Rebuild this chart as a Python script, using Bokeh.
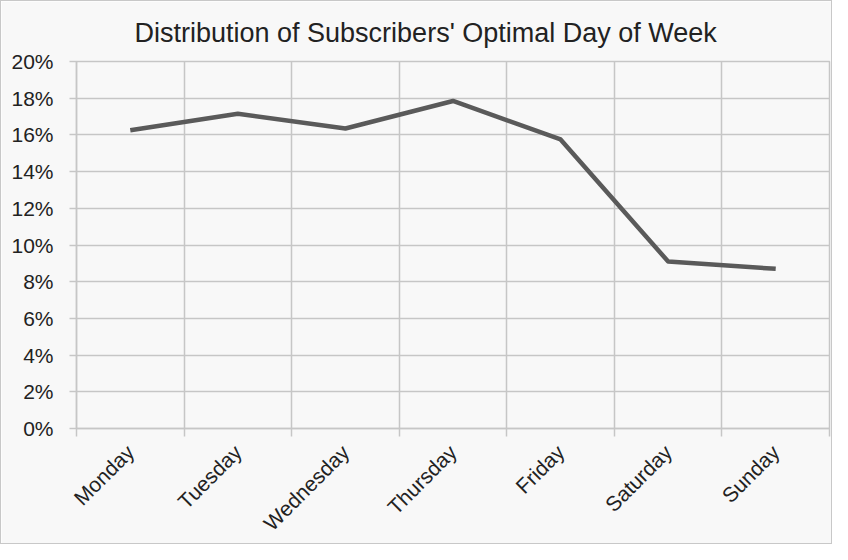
import math
from bokeh.plotting import figure
from bokeh.models import FixedTicker, PrintfTickFormatter, ColumnDataSource
from bokeh.embed import file_html
from bokeh.resources import INLINE

days = ["Monday", "Tuesday", "Wednesday", "Thursday", "Friday", "Saturday", "Sunday"]
share_pct = [16.25, 17.15, 16.35, 17.85, 15.75, 9.1, 8.7]
y_ticks = [0, 2, 4, 6, 8, 10, 12, 14, 16, 18, 20]
title_text = "Distribution of Subscribers' Optimal Day of Week"

GRID = "#c6c6c6"
TEXT = "#222222"
BG = "#f8f8f8"
FONT = "Liberation Sans"

xs = [i + 0.5 for i in range(len(days))]
src = ColumnDataSource(data=dict(x=xs, y=share_pct, day=days))

p = figure(width=832, height=544, x_range=(0, len(days)), y_range=(y_ticks[0], y_ticks[-1]),
           output_backend="svg", toolbar_location=None, title=title_text)
p.min_border_left = 75
p.min_border_top = 60
p.min_border_right = 4
p.min_border_bottom = 108
p.background_fill_color = BG
p.border_fill_color = BG
p.outline_line_color = GRID
p.outline_line_width = 1.5
p.styles = {"border": "1px solid #c8c8c8"}

p.title.text_font = FONT
p.title.text_font_size = "27px"
p.title.text_font_style = "normal"
p.title.text_color = TEXT
p.title.align = "left"
p.title.offset = 58
p.title.standoff = 27

# x axis
p.xaxis.ticker = FixedTicker(ticks=xs, minor_ticks=list(range(len(days) + 1)))
p.xaxis.major_label_overrides = {x: d for x, d in zip(xs, days)}
p.xaxis.major_label_orientation = math.pi / 4
p.xaxis.major_tick_out = 0
p.xaxis.major_tick_in = 0
p.xaxis.minor_tick_out = 8
p.xaxis.minor_tick_in = 0
p.xaxis.minor_tick_line_color = GRID
p.xaxis.minor_tick_line_width = 1.5
p.xaxis.axis_line_color = GRID
p.xaxis.axis_line_width = 1.5
p.xaxis.major_label_text_font = FONT
p.xaxis.major_label_text_font_size = "21px"
p.xaxis.major_label_text_color = TEXT
p.xaxis.major_label_standoff = 12

# y axis
p.yaxis.ticker = FixedTicker(ticks=y_ticks, minor_ticks=[])
p.yaxis.formatter = PrintfTickFormatter(format="%d%%")
p.yaxis.major_tick_out = 7
p.yaxis.major_tick_in = 0
p.yaxis.major_tick_line_color = GRID
p.yaxis.major_tick_line_width = 1.5
p.yaxis.axis_line_color = GRID
p.yaxis.axis_line_width = 1.5
p.yaxis.major_label_text_font = FONT
p.yaxis.major_label_text_font_size = "21px"
p.yaxis.major_label_text_color = TEXT
p.yaxis.major_label_standoff = 16

# grids
p.xgrid.ticker = FixedTicker(ticks=list(range(len(days) + 1)))
p.xgrid.grid_line_color = GRID
p.xgrid.grid_line_width = 1.5
p.ygrid.ticker = FixedTicker(ticks=y_ticks)
p.ygrid.grid_line_color = GRID
p.ygrid.grid_line_width = 1.5

p.line("x", "y", source=src, line_width=4.5, line_color="#5a5a5a", line_join="round")

open("out.html", "w").write(file_html(p, INLINE))
